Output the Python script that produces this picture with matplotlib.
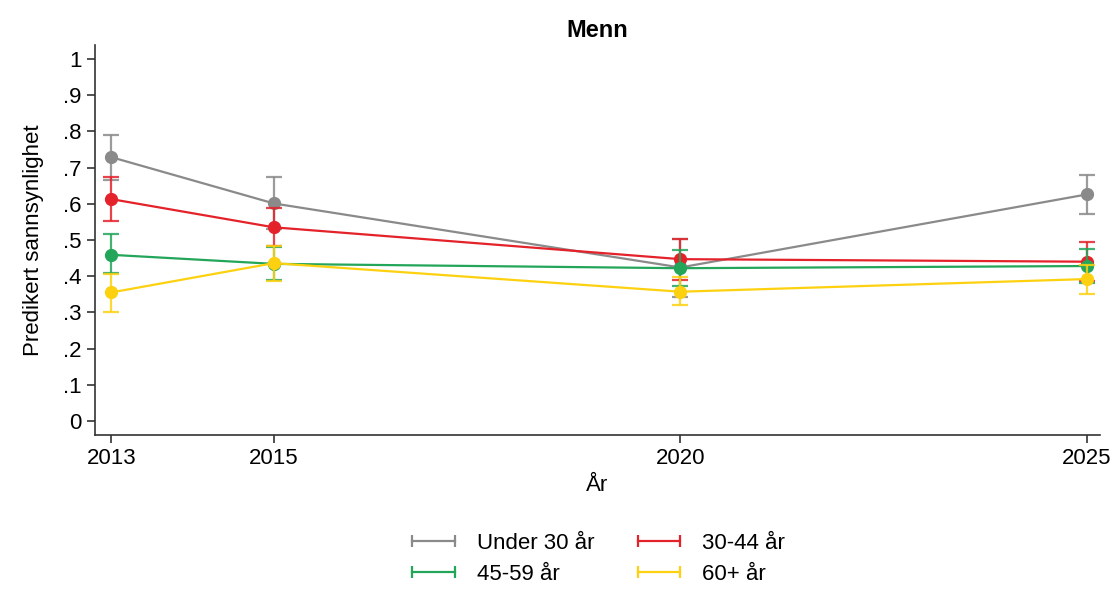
import matplotlib.pyplot as plt
from matplotlib.lines import Line2D

plt.rcParams['font.family'] = ['Liberation Sans', 'DejaVu Sans']

years = [2013, 2015, 2020, 2025]
groups = ['Under 30 år', '30-44 år', '45-59 år', '60+ år']
colors = ['#8a8a8a', '#e4222a', '#23a55a', '#fdd10f']

# predikert sannsynlighet med konfidensintervall
est = [
    [0.729, 0.601, 0.424, 0.626],
    [0.613, 0.535, 0.447, 0.440],
    [0.459, 0.434, 0.422, 0.428],
    [0.355, 0.436, 0.357, 0.392],
]
lo = [
    [0.666, 0.530, 0.343, 0.571],
    [0.553, 0.482, 0.390, 0.386],
    [0.408, 0.390, 0.372, 0.380],
    [0.302, 0.388, 0.320, 0.351],
]
hi = [
    [0.790, 0.673, 0.502, 0.681],
    [0.675, 0.588, 0.503, 0.494],
    [0.517, 0.480, 0.472, 0.475],
    [0.406, 0.482, 0.397, 0.432],
]

fig = plt.figure(figsize=(11.15, 5.89), dpi=100)
ax = fig.add_axes([0.0852, 0.2615, 0.9013, 0.6621])

for g, c, e, l, h in zip(groups, colors, est, lo, hi):
    yerr = [[ei - li for ei, li in zip(e, l)], [hi_ - ei for ei, hi_ in zip(e, h)]]
    ax.errorbar(years, e, yerr=yerr, fmt='none', ecolor=c, elinewidth=1.6,
                capsize=6, capthick=1.6, alpha=0.85)
    ax.plot(years, e, color=c, lw=1.6, marker='o', markersize=8.5)

ax.set_xlim(2012.8, 2025.16)
ax.set_ylim(-0.039, 1.039)
ax.set_xticks(years)
ax.set_yticks([i / 10 for i in range(11)])
ax.set_yticklabels(['0'] + ['.%d' % i for i in range(1, 10)] + ['1'])
ax.tick_params(labelsize=16, length=6, width=1.2, color='#333333')
ax.spines['top'].set_visible(False)
ax.spines['right'].set_visible(False)
for s in ['left', 'bottom']:
    ax.spines[s].set_linewidth(1.2)
    ax.spines[s].set_color('#333333')

ax.set_title('Menn', fontsize=17, fontweight='bold', pad=6)
ax.set_xlabel('År', fontsize=16, labelpad=4)
ax.set_ylabel('Predikert sannsynlighet', fontsize=16, labelpad=14)

handles = [Line2D([], [], color=c, lw=1.6, marker='|', markersize=8, markeredgewidth=1.6)
           for c in colors]
order = [0, 2, 1, 3]  # rad for rad som i originalen
fig.legend([handles[i] for i in order], [groups[i] for i in order],
           loc='center', bbox_to_anchor=(0.534, 0.051), ncol=2,
           frameon=False, fontsize=16, numpoints=2, handlelength=2.5,
           handletextpad=0.7, columnspacing=1.65, labelspacing=0.45)

plt.savefig('out.png')
